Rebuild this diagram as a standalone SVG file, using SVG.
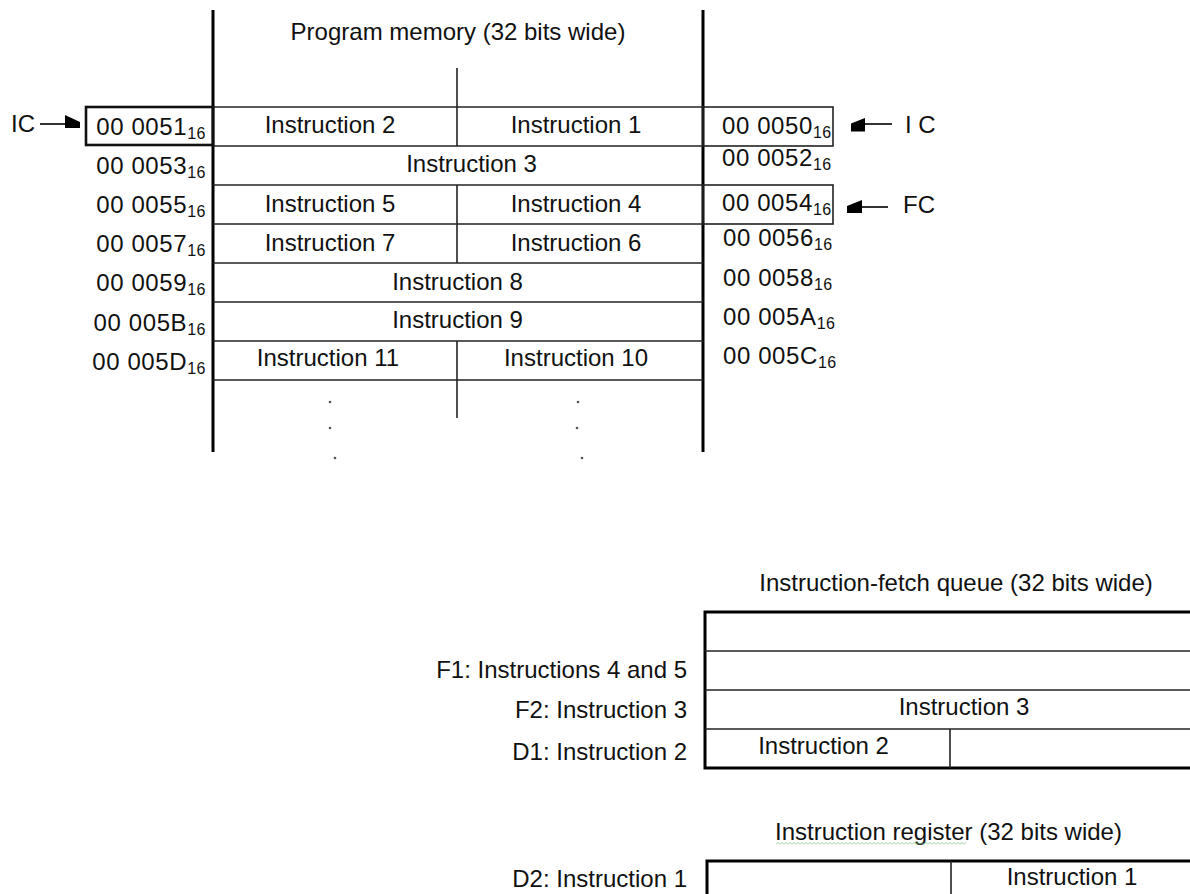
<svg xmlns="http://www.w3.org/2000/svg" width="1190" height="894" viewBox="0 0 1190 894">
<style>
text{font-family:"Liberation Sans",Arial,sans-serif;font-size:24px;fill:#111}
.addr{letter-spacing:0.6px}
.sub{font-size:16px;letter-spacing:0.5px}
.mid{text-anchor:middle}
.end{text-anchor:end}
.thick{stroke:#000;stroke-width:3;fill:none}
.thin{stroke:#222;stroke-width:1.6;fill:none}
.box{stroke:#222;stroke-width:1.6;fill:none}
.lbox{stroke:#111;stroke-width:2.6;fill:none}
.dot{fill:#555}
.head{fill:#000}
.arr{stroke:#000;stroke-width:1.6}
</style>
<defs>
<pattern id="squig" x="776" y="842" width="4" height="3" patternUnits="userSpaceOnUse">
<path d="M0,2.5 L1,1.5 L2,0.5 L3,1.5 L4,2.5" stroke="#7cc47c" stroke-width="0.9" fill="none"/>
</pattern>
</defs>
<rect width="1190" height="894" fill="#fff"/>

<g id="program-memory">
<text class="mid" x="458" y="40">Program memory (32 bits wide)</text>
<line class="thick" x1="213" y1="10" x2="213" y2="452"/>
<line class="thick" x1="703" y1="10" x2="703" y2="452"/>
<line class="thin" x1="213" y1="107" x2="703" y2="107"/>
<line class="thin" x1="213" y1="146" x2="703" y2="146"/>
<line class="thin" x1="213" y1="185" x2="703" y2="185"/>
<line class="thin" x1="213" y1="224" x2="703" y2="224"/>
<line class="thin" x1="213" y1="263" x2="703" y2="263"/>
<line class="thin" x1="213" y1="302" x2="703" y2="302"/>
<line class="thin" x1="213" y1="341" x2="703" y2="341"/>
<line class="thin" x1="213" y1="380" x2="703" y2="380"/>
<line class="thin" x1="457" y1="68" x2="457" y2="146"/>
<line class="thin" x1="457" y1="185" x2="457" y2="263"/>
<line class="thin" x1="457" y1="341" x2="457" y2="418"/>
<text class="mid" x="330" y="133">Instruction 2</text>
<text class="mid" x="576" y="133">Instruction 1</text>
<text class="mid" x="471.5" y="172">Instruction 3</text>
<text class="mid" x="330" y="212">Instruction 5</text>
<text class="mid" x="576" y="212">Instruction 4</text>
<text class="mid" x="330" y="251">Instruction 7</text>
<text class="mid" x="576" y="251">Instruction 6</text>
<text class="mid" x="457.5" y="290">Instruction 8</text>
<text class="mid" x="457.5" y="328">Instruction 9</text>
<text class="mid" x="328" y="366">Instruction 11</text>
<text class="mid" x="576" y="366">Instruction 10</text>
<circle class="dot" cx="330" cy="402" r="1.3"/>
<circle class="dot" cx="330" cy="428" r="1.3"/>
<circle class="dot" cx="335" cy="458" r="1.3"/>
<circle class="dot" cx="578" cy="402" r="1.3"/>
<circle class="dot" cx="577" cy="428" r="1.3"/>
<circle class="dot" cx="582" cy="458" r="1.3"/>
</g>

<g id="addresses-left">
<rect class="lbox" x="86" y="107" width="127" height="38"/>
<text class="end addr" x="206" y="135">00 0051<tspan class="sub" dy="4">16</tspan></text>
<text class="end addr" x="206" y="174">00 0053<tspan class="sub" dy="4">16</tspan></text>
<text class="end addr" x="206" y="213">00 0055<tspan class="sub" dy="4">16</tspan></text>
<text class="end addr" x="206" y="252">00 0057<tspan class="sub" dy="4">16</tspan></text>
<text class="end addr" x="206" y="291">00 0059<tspan class="sub" dy="4">16</tspan></text>
<text class="end addr" x="206" y="331">00 005B<tspan class="sub" dy="4">16</tspan></text>
<text class="end addr" x="206" y="370">00 005D<tspan class="sub" dy="4">16</tspan></text>
</g>

<g id="addresses-right">
<rect class="box" x="703" y="107" width="130" height="39"/>
<rect class="box" x="703" y="185" width="130" height="39"/>
<text class="addr" x="722" y="134">00 0050<tspan class="sub" dy="4">16</tspan></text>
<text class="addr" x="722" y="166">00 0052<tspan class="sub" dy="4">16</tspan></text>
<text class="addr" x="722" y="211">00 0054<tspan class="sub" dy="4">16</tspan></text>
<text class="addr" x="723" y="246">00 0056<tspan class="sub" dy="4">16</tspan></text>
<text class="addr" x="723" y="286">00 0058<tspan class="sub" dy="4">16</tspan></text>
<text class="addr" x="723" y="325">00 005A<tspan class="sub" dy="4">16</tspan></text>
<text class="addr" x="723" y="364">00 005C<tspan class="sub" dy="4">16</tspan></text>
</g>

<g id="pointer-labels">
<text x="11" y="132">IC</text>
<text x="905" y="133">I C</text>
<text x="903" y="213">FC</text>
</g>

<g id="connectors">
<line class="arr" x1="40" y1="124" x2="66" y2="124"/>
<polygon class="head" points="65,115 80,122 80,128 65,128"/>
<line class="arr" x1="864" y1="124" x2="892" y2="124"/>
<polygon class="head" points="851,123.5 865,118 865,131.5 851,131.5"/>
<line class="arr" x1="861" y1="207" x2="888" y2="207"/>
<polygon class="head" points="847,206 862,200 862,213 847,213"/>
</g>

<g id="fetch-queue">
<text class="mid" x="956" y="591">Instruction-fetch queue (32 bits wide)</text>
<rect class="thick" x="705" y="612" width="520" height="156"/>
<line class="thin" x1="705" y1="651" x2="1190" y2="651"/>
<line class="thin" x1="705" y1="690" x2="1190" y2="690"/>
<line class="thin" x1="705" y1="729" x2="1190" y2="729"/>
<line class="thin" x1="950" y1="729" x2="950" y2="768"/>
<text class="mid" x="964" y="715">Instruction 3</text>
<text class="mid" x="823.5" y="754">Instruction 2</text>
<text class="end" x="687" y="678">F1: Instructions 4 and 5</text>
<text class="end" x="687" y="718">F2: Instruction 3</text>
<text class="end" x="687" y="760">D1: Instruction 2</text>
</g>

<g id="instruction-register">
<text class="mid" x="948.5" y="840">Instruction register (32 bits wide)</text>
<rect x="776" y="842" width="190" height="3" fill="url(#squig)"/>
<rect class="thick" x="707" y="861" width="520" height="60"/>
<line class="thin" x1="951" y1="861" x2="951" y2="894"/>
<text class="mid" x="1072" y="885">Instruction 1</text>
<text class="end" x="687" y="887">D2: Instruction 1</text>
</g>
</svg>
